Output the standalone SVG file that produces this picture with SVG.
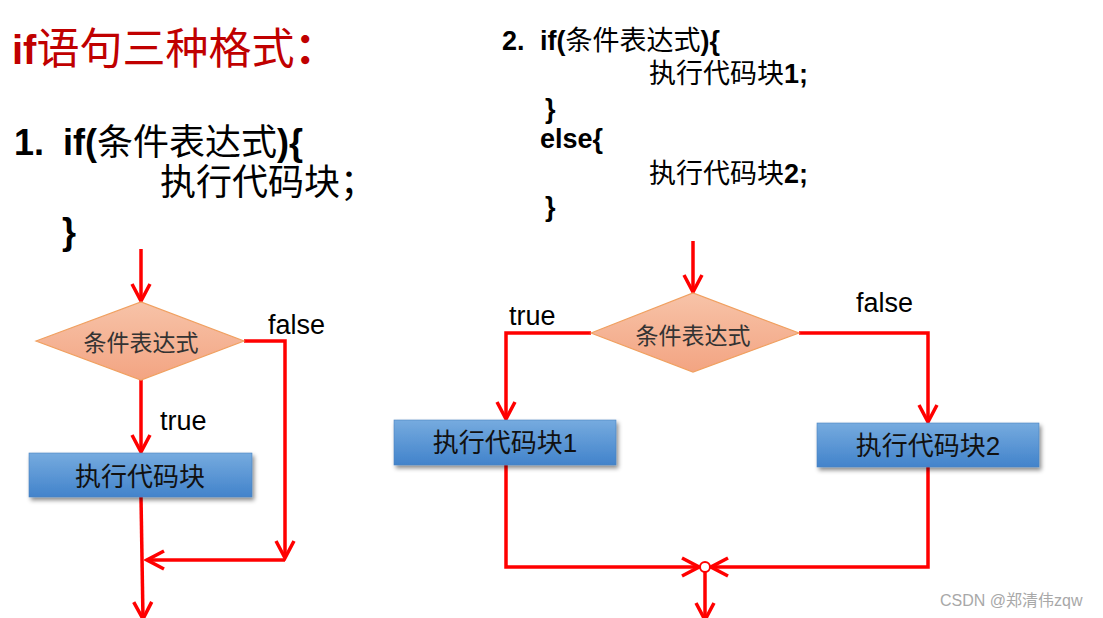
<svg xmlns="http://www.w3.org/2000/svg" width="1103" height="618" viewBox="0 0 1103 618">
<style>
text{font-family:"Liberation Sans","Noto Sans CJK SC",sans-serif;}
.b{font-weight:bold;}
.cj{font-weight:normal;}
.code1{font-size:36px;fill:#000;}
.code2{font-size:27px;fill:#000;}
.lbl{font-size:27px;fill:#000;}
.dtxt{font-size:23px;fill:#333;text-anchor:middle;}
.btxt{font-size:26px;fill:#111;text-anchor:middle;}
.conA{fill:none;stroke:#FF0000;stroke-width:3.5;marker-end:url(#arr);}
.dia{fill:url(#gd);stroke:#F0A060;stroke-width:1.2;}
.box{fill:url(#gb);stroke:#4a82c0;stroke-width:0.6;filter:url(#sh);}
</style>
<defs>
<linearGradient id="gd" x1="0" y1="0" x2="0" y2="1">
<stop offset="0" stop-color="#F7C3A8"/>
<stop offset="1" stop-color="#F3A482"/>
</linearGradient>
<linearGradient id="gb" x1="0" y1="0" x2="0" y2="1">
<stop offset="0" stop-color="#76ABDF"/>
<stop offset="1" stop-color="#4283CB"/>
</linearGradient>
<filter id="sh" x="-10%" y="-20%" width="125%" height="160%">
<feDropShadow dx="2" dy="3" stdDeviation="2" flood-color="#000" flood-opacity="0.45"/>
</filter>
<marker id="arr" markerUnits="userSpaceOnUse" markerWidth="22" markerHeight="22" viewBox="0 0 22 22" refX="19" refY="11" orient="auto">
<path d="M2,2 L19,11 L2,20" fill="none" stroke="#FF0000" stroke-width="3.5"/>
</marker>
</defs>
<rect width="1103" height="618" fill="#fff"/>

<g id="title">
<text x="12" y="64" fill="#C00000"><tspan class="b" font-size="40">if</tspan><tspan class="cj" font-size="43">语句三种格式</tspan><tspan class="b" font-size="43">：</tspan></text>
</g>

<g id="code1">
<text class="code1" x="14" y="155"><tspan class="b">1.</tspan><tspan class="b" x="63">if(</tspan><tspan class="cj">条件表达式</tspan><tspan class="b">){</tspan></text>
<text class="code1" x="160" y="195"><tspan class="cj">执行代码块；</tspan></text>
<text class="code1 b" x="62" y="244">}</text>
</g>

<g id="code2">
<text class="code2" x="502" y="50"><tspan class="b">2.</tspan><tspan class="b" x="540">if(</tspan><tspan class="cj">条件表达式</tspan><tspan class="b">){</tspan></text>
<text class="code2" x="649" y="83"><tspan class="cj">执行代码块</tspan><tspan class="b">1;</tspan></text>
<text class="code2 b" x="545" y="118">}</text>
<text class="code2 b" x="540" y="148">else{</text>
<text class="code2" x="649" y="183"><tspan class="cj">执行代码块</tspan><tspan class="b">2;</tspan></text>
<text class="code2 b" x="545" y="216">}</text>
</g>

<g id="connectors">
<path class="conA" d="M141,249 V301"/>
<path class="conA" d="M141,380 V452"/>
<path class="conA" d="M244,341 H285 V558"/>
<path class="conA" d="M285,560 H147"/>
<path class="conA" d="M141,497 L143,619"/>
<path class="conA" d="M693,241 V292"/>
<path class="conA" d="M591,333 H506 V419"/>
<path class="conA" d="M799,333 H928 V422"/>
<path class="conA" d="M506,465 V567 H699"/>
<path class="conA" d="M928,467 V567 H711"/>
<path class="conA" d="M705,572 V620"/>
</g>

<g id="cond1">
<polygon class="dia" points="36,341 141,302 244,341 141,380"/>
<text class="dtxt" x="141" y="351">条件表达式</text>
</g>
<g id="labels1">
<text class="lbl" x="268" y="334">false</text>
<text class="lbl" x="160" y="430">true</text>
</g>
<g id="block">
<rect class="box" x="29" y="453" width="223" height="44"/>
<text class="btxt" x="140" y="486">执行代码块</text>
</g>

<g id="cond2">
<polygon class="dia" points="591,333 693,293 799,333 693,372"/>
<text class="dtxt" x="693" y="344">条件表达式</text>
</g>
<g id="labels2">
<text class="lbl" x="509" y="325">true</text>
<text class="lbl" x="856" y="312">false</text>
</g>
<g id="block1">
<rect class="box" x="394" y="420" width="222" height="45"/>
<text class="btxt" x="505" y="452">执行代码块1</text>
</g>
<g id="block2">
<rect class="box" x="817" y="423" width="222" height="44"/>
<text class="btxt" x="928" y="455">执行代码块2</text>
</g>
<g id="merge">
<circle cx="705" cy="567" r="5" fill="#fff" stroke="#FF0000" stroke-width="2"/>
</g>

<g id="watermark">
<text x="940" y="606" font-size="16" fill="#a8a8a8">CSDN @郑清伟zqw</text>
</g>
</svg>
